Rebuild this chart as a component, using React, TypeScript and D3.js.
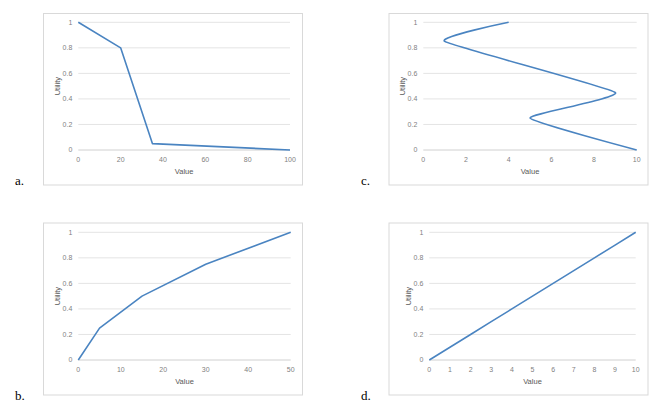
import React from 'react';
import * as d3 from 'd3';

// panel a
const aValues = [0, 20, 35, 100];
const aUtility = [1, 0.8, 0.05, 0];
const aTicks = [0, 20, 40, 60, 80, 100];

// panel b
const bValues = [0, 5, 15, 30, 50];
const bUtility = [0, 0.25, 0.5, 0.75, 1];
const bTicks = [0, 10, 20, 30, 40, 50];

// panel c (smoothed line)
const cValues = [4, 1, 9, 5, 10];
const cUtility = [1, 0.85, 0.45, 0.25, 0];
const cTicks = [0, 2, 4, 6, 8, 10];

// panel d
const dValues = [0, 1, 2, 3, 4, 5, 6, 7, 8, 9, 10];
const dUtility = [0, 0.1, 0.2, 0.3, 0.4, 0.5, 0.6, 0.7, 0.8, 0.9, 1];
const dTicks = [0, 1, 2, 3, 4, 5, 6, 7, 8, 9, 10];

const yTicks = [0, 0.2, 0.4, 0.6, 0.8, 1];
const yTickLabels = ['0', '0.2', '0.4', '0.6', '0.8', '1'];

const LINE = '#4a84c1';
const GRID = '#e4e4e4';
const FRAME = '#d9d9d9';
const TICK = '#7f7f7f';
const FONT = "'Liberation Sans', Arial, sans-serif";

interface PanelProps {
  frame: [number, number, number, number];
  plot: [number, number, number, number];
  xs: number[];
  ys: number[];
  xTicks: number[];
  letter: string;
  letterPos: [number, number];
  smooth?: boolean;
}

function Panel({ frame, plot, xs, ys, xTicks, letter, letterPos, smooth }: PanelProps) {
  const [fx0, fy0, fx1, fy1] = frame;
  const [px0, py0, px1, py1] = plot;
  const x = d3.scaleLinear().domain([xTicks[0], xTicks[xTicks.length - 1]]).range([px0, px1]);
  const y = d3.scaleLinear().domain([0, 1]).range([py1, py0]);
  const pts: [number, number][] = xs.map((v, i) => [v, ys[i]]);
  const line = d3.line<[number, number]>()
    .x(d => x(d[0]))
    .y(d => y(d[1]))
    .curve(smooth ? d3.curveCardinal.tension(0.6) : d3.curveLinear);

  return (
    <g>
      <rect x={fx0} y={fy0} width={fx1 - fx0} height={fy1 - fy0} fill="#fff" stroke={FRAME} strokeWidth={1} />
      {yTicks.map((t, i) => (
        <g key={t}>
          <line x1={px0} x2={px1} y1={y(t)} y2={y(t)} stroke={i === 0 ? '#d0d0d0' : GRID} strokeWidth={1} />
          <text x={px0 - 6} y={y(t)} dy="0.35em" textAnchor="end" fontSize={7} fill={TICK} fontFamily={FONT}>
            {yTickLabels[i]}
          </text>
        </g>
      ))}
      {xTicks.map(t => (
        <text key={t} x={x(t)} y={py1 + 10} dy="0.35em" textAnchor="middle" fontSize={7} fill={TICK} fontFamily={FONT}>
          {t}
        </text>
      ))}
      <text x={(px0 + px1) / 2} y={py1 + 21} dy="0.35em" textAnchor="middle" fontSize={7.5} fill="#595959" fontFamily={FONT}>
        Value
      </text>
      <text
        transform={`translate(${px0 - 21},${(py0 + py1) / 2}) rotate(-90)`}
        dy="0.35em"
        textAnchor="middle"
        fontSize={7.5}
        fill="#595959"
        fontFamily={FONT}
      >
        Utility
      </text>
      <path d={line(pts) ?? ''} fill="none" stroke={LINE} strokeWidth={1.6} strokeLinejoin="round" />
      <text x={letterPos[0]} y={letterPos[1]} fontSize={13} fill="#000" fontFamily="'Liberation Serif', 'Times New Roman', serif">
        {letter}
      </text>
    </g>
  );
}

export default function App() {
  return (
    <div style={{ position: 'absolute', left: 0, top: 0 }}>
      <svg width={661} height={417} viewBox="0 0 661 417" style={{ display: 'block', background: '#fff' }}>
        <Panel
          frame={[43.5, 13.5, 302.5, 185]}
          plot={[78.3, 22.3, 290, 150]}
          xs={aValues}
          ys={aUtility}
          xTicks={aTicks}
          letter="a."
          letterPos={[15, 185]}
        />
        <Panel
          frame={[389, 13.5, 648, 185]}
          plot={[423.3, 22.3, 636.7, 150]}
          xs={cValues}
          ys={cUtility}
          xTicks={cTicks}
          letter="c."
          letterPos={[361, 185]}
          smooth
        />
        <Panel
          frame={[43.5, 223, 302.5, 395]}
          plot={[78.3, 232.3, 290.7, 360]}
          xs={bValues}
          ys={bUtility}
          xTicks={bTicks}
          letter="b."
          letterPos={[15, 400]}
        />
        <Panel
          frame={[389, 223, 648, 395]}
          plot={[429.3, 232.3, 635.7, 360]}
          xs={dValues}
          ys={dUtility}
          xTicks={dTicks}
          letter="d."
          letterPos={[361, 400]}
        />
      </svg>
    </div>
  );
}
